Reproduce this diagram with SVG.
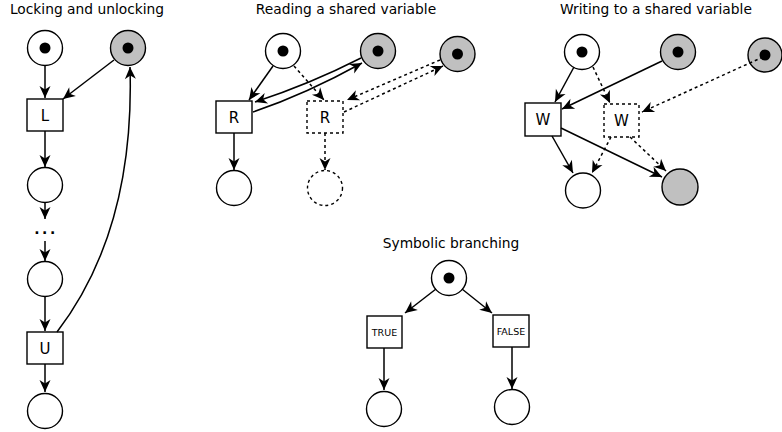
<svg xmlns="http://www.w3.org/2000/svg" width="782" height="432" viewBox="0 0 782 432">
<defs>
<marker id="ah" viewBox="-13 -7 14 14" refX="0" refY="0" markerWidth="14" markerHeight="14" markerUnits="userSpaceOnUse" orient="auto">
<path d="M0,0 L-12,-5.5 L-8.5,0 L-12,5.5 Z" fill="#000"/>
</marker>
<style>
.pl{fill:#fff;stroke:#000;stroke-width:1.4}
.sh{fill:#c0c0c0;stroke:#000;stroke-width:1.4}
.tk{fill:#000}
.tr{fill:#fff;stroke:#000;stroke-width:1.4}
.ds{stroke-dasharray:3,3}
.ar{fill:none;stroke:#000;stroke-width:1.5;marker-end:url(#ah)}
.ti{font-family:"DejaVu Sans",sans-serif;font-size:13.8px;fill:#000;text-anchor:middle}
.lb{font-family:"DejaVu Sans",sans-serif;font-size:15px;fill:#000;text-anchor:middle}
.sm{font-family:"DejaVu Sans",sans-serif;font-size:9.5px;fill:#000;text-anchor:middle}
</style>
</defs>
<rect width="782" height="432" fill="#fff"/>

<g id="titles">
<text class="ti" x="87" y="14">Locking and unlocking</text>
<text class="ti" x="346" y="14">Reading a shared variable</text>
<text class="ti" x="656" y="14">Writing to a shared variable</text>
<text class="ti" x="451" y="248">Symbolic branching</text>
</g>

<!-- Locking nodes -->
<g id="lock-p0"><circle class="pl" cx="45" cy="48" r="17.5"/><circle class="tk" cx="45" cy="48" r="5.5"/></g>
<g id="lock-mutex"><circle class="sh" cx="128" cy="48" r="17.5"/><circle class="tk" cx="128" cy="48" r="5.5"/></g>
<g id="lock-L"><rect class="tr" x="27" y="99" width="36" height="32"/><text class="lb" x="45" y="120.5">L</text></g>
<g id="lock-p1"><circle class="pl" cx="45" cy="185" r="17.5"/></g>
<g id="lock-dots"><text x="46" y="234" style="font-family:'DejaVu Sans',sans-serif;font-size:14px;font-weight:bold;letter-spacing:2.5px;text-anchor:middle">...</text></g>
<g id="lock-p2"><circle class="pl" cx="45" cy="279" r="17.5"/></g>
<g id="lock-U"><rect class="tr" x="27" y="332" width="36" height="32"/><text class="lb" x="45" y="353.5">U</text></g>
<g id="lock-p3"><circle class="pl" cx="45" cy="411" r="17.5"/></g>

<!-- Reading nodes -->
<g id="read-p0"><circle class="pl" cx="283" cy="51" r="17.5"/><circle class="tk" cx="283" cy="51" r="5.5"/></g>
<g id="read-v"><circle class="sh" cx="378" cy="51" r="17.5"/><circle class="tk" cx="378" cy="51" r="5.5"/></g>
<g id="read-v2"><circle class="sh" cx="457.5" cy="54" r="17.5"/><circle class="tk" cx="457.5" cy="54" r="5.5"/></g>
<g id="read-R"><rect class="tr" x="216" y="101" width="36" height="32"/><text class="lb" x="234" y="122.5">R</text></g>
<g id="read-R2"><rect class="tr ds" x="307" y="101" width="36" height="32"/><text class="lb" x="325" y="122.5">R</text></g>
<g id="read-p1"><circle class="pl" cx="234" cy="188" r="17.5"/></g>
<g id="read-p2"><circle class="pl ds" cx="325" cy="188" r="17.5"/></g>

<!-- Writing nodes -->
<g id="write-p0"><circle class="pl" cx="582" cy="52" r="17.5"/><circle class="tk" cx="582" cy="52" r="5.5"/></g>
<g id="write-v"><circle class="sh" cx="678" cy="52" r="17.5"/><circle class="tk" cx="678" cy="52" r="5.5"/></g>
<g id="write-v2"><circle class="sh" cx="765" cy="55" r="17"/><circle class="tk" cx="765" cy="55" r="5.5"/></g>
<g id="write-W"><rect class="tr" x="525" y="103" width="36" height="33"/><text class="lb" x="543" y="124.5">W</text></g>
<g id="write-W2"><rect class="tr ds" x="604" y="104" width="35" height="33"/><text class="lb" x="621.5" y="125.5">W</text></g>
<g id="write-p1"><circle class="pl" cx="583" cy="190.5" r="17.5"/></g>
<g id="write-v3"><circle class="sh" cx="680" cy="187" r="18"/></g>

<!-- Symbolic nodes -->
<g id="sym-p0"><circle class="pl" cx="449" cy="278" r="17.5"/><circle class="tk" cx="449" cy="278" r="5.5"/></g>
<g id="sym-true"><rect class="tr" x="367" y="316" width="35" height="32"/><text class="sm" x="384.5" y="335.5">TRUE</text></g>
<g id="sym-false"><rect class="tr" x="493" y="315" width="36" height="32"/><text class="sm" x="511" y="334.5">FALSE</text></g>
<g id="sym-p1"><circle class="pl" cx="384" cy="409" r="17.5"/></g>
<g id="sym-p2"><circle class="pl" cx="512" cy="407" r="17.5"/></g>

<g id="connectors">
<!-- Locking -->
<path class="ar" d="M45,66 L45,98"/>
<path class="ar" d="M114,60 L63,99"/>
<path class="ar" d="M45,131 L45,167"/>
<path class="ar" d="M45,203 L45,219"/>
<path class="ar" d="M45,241 L45,261"/>
<path class="ar" d="M45,297 L45,331"/>
<path class="ar" d="M45,364 L45,392"/>
<path class="ar" d="M57,332 Q135,230 130,67"/>
<!-- Reading -->
<path class="ar" d="M273,66 L249,100"/>
<path class="ar ds" d="M294,66 L324,100"/>
<path class="ar" d="M361,58 Q310,84 255,102"/>
<path class="ar" d="M253,112 Q306,94 362,63"/>
<path class="ar ds" d="M440,60 L347,100"/>
<path class="ar ds" d="M344,112 L443,66"/>
<path class="ar" d="M234,133 L234,170"/>
<path class="ar ds" d="M325,133 L325,170"/>
<!-- Writing -->
<path class="ar" d="M574,67 L555,102"/>
<path class="ar ds" d="M593,67 L610,103"/>
<path class="ar" d="M662,61 L562,109"/>
<path class="ar ds" d="M763,57 L642,112"/>
<path class="ar" d="M552,136 L573,173"/>
<path class="ar" d="M561,128 L662,177"/>
<path class="ar ds" d="M611,137 L592,173"/>
<path class="ar ds" d="M630,137 L666,171"/>
<!-- Symbolic -->
<path class="ar" d="M436,289 L405,313"/>
<path class="ar" d="M462,289 L492,313"/>
<path class="ar" d="M384,348 L384,390"/>
<path class="ar" d="M512,347 L512,389"/>
</g>
</svg>
